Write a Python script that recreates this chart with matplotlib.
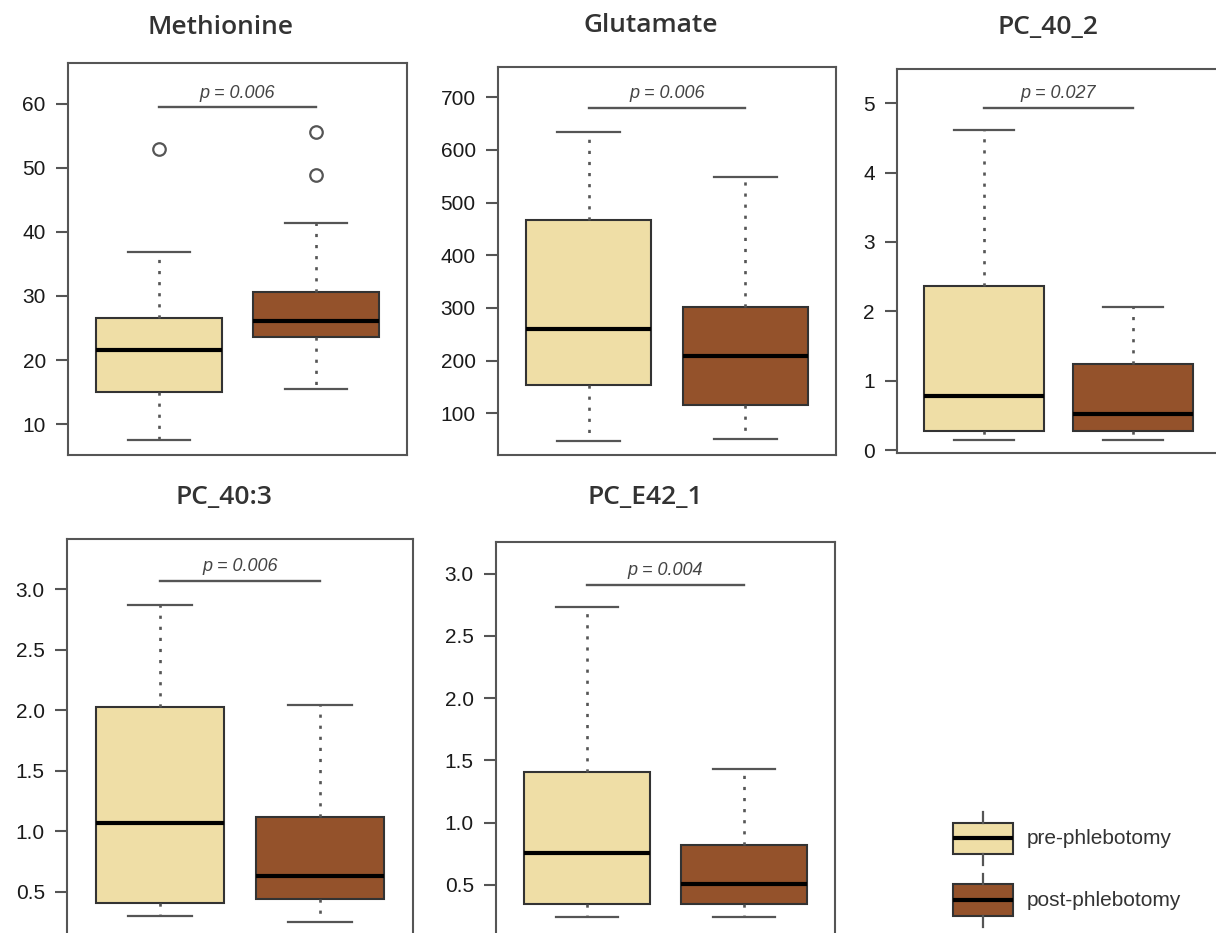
import matplotlib
matplotlib.use("Agg")
import matplotlib.pyplot as plt
from matplotlib.patches import Rectangle

plt.rcParams['font.family'] = ['Liberation Sans', 'DejaVu Sans']

# --- data ---
titles = ["Methionine", "Glutamate", "PC_40_2", "PC_40:3", "PC_E42_1"]

# whisker low, Q1, median, Q3, whisker high
pre_stats = [
    [7.5, 15.0, 21.6, 26.6, 36.9],
    [48, 154, 260, 468, 635],
    [0.15, 0.28, 0.78, 2.37, 4.61],
    [0.30, 0.41, 1.07, 2.03, 2.87],
    [0.24, 0.345, 0.755, 1.41, 2.73],
]
post_stats = [
    [15.5, 23.6, 26.1, 30.6, 41.4],
    [51, 116, 209, 301, 549],
    [0.15, 0.28, 0.53, 1.24, 2.07],
    [0.25, 0.44, 0.63, 1.12, 2.04],
    [0.24, 0.345, 0.51, 0.82, 1.43],
]
pre_fliers = [[53.0], [], [], [], []]
post_fliers = [[55.6, 48.9], [], [], [], []]

p_values = ["0.006", "0.006", "0.027", "0.006", "0.004"]
p_bar_y = [59.5, 680, 4.93, 3.07, 2.91]

yticks = [
    [10, 20, 30, 40, 50, 60],
    [100, 200, 300, 400, 500, 600, 700],
    [0, 1, 2, 3, 4, 5],
    [0.5, 1.0, 1.5, 2.0, 2.5, 3.0],
    [0.5, 1.0, 1.5, 2.0, 2.5, 3.0],
]
ytick_fmt = ["{:.0f}", "{:.0f}", "{:.0f}", "{:.1f}", "{:.1f}"]
ylims = [(5.16, 66.4), (20.8, 757.6), (-0.038, 5.49), (0.134, 3.416), (0.09, 3.255)]

group_names = ["pre-phlebotomy", "post-phlebotomy"]
pre_color = "#EFDEA6"
post_color = "#94522B"

# --- layout (pixels: left, right, top, bottom) ---
W, H = 1216, 933
boxes_px = [
    (68, 407, 63, 455),
    (498, 836, 67, 455),
    (897, 1220, 69, 453),
    (67, 413, 539, 936),
    (496, 835, 542, 936),
]
title_px = [(220, 27), (651, 26), (1048, 27), (224, 497), (645, 497)]

fig = plt.figure(figsize=(W / 100, H / 100), dpi=100)

for i, (l, r, t, b) in enumerate(boxes_px):
    ax = fig.add_axes([l / W, 1 - b / H, (r - l) / W, (b - t) / H])
    stats = []
    for s, fl in ((pre_stats[i], pre_fliers[i]), (post_stats[i], post_fliers[i])):
        stats.append(dict(whislo=s[0], q1=s[1], med=s[2], q3=s[3], whishi=s[4], fliers=fl))
    res = ax.bxp(stats, positions=[1, 2], widths=0.8, capwidths=0.4, patch_artist=True,
                 boxprops=dict(edgecolor="#333333", linewidth=1.5),
                 medianprops=dict(color="black", linewidth=3.0, solid_capstyle="butt"),
                 whiskerprops=dict(color="#555555", linewidth=1.9, linestyle=(0, (1.2, 3.0))),
                 capprops=dict(color="#555555", linewidth=1.6),
                 flierprops=dict(marker="o", markerfacecolor="none", markeredgecolor="#555555",
                                 markersize=9, markeredgewidth=1.6))
    for patch, c in zip(res["boxes"], [pre_color, post_color]):
        patch.set_facecolor(c)
    ax.set_xlim(0.42, 2.58)
    ax.set_ylim(*ylims[i])
    ax.set_xticks([])
    ax.set_yticks(yticks[i])
    ax.set_yticklabels([ytick_fmt[i].format(v) for v in yticks[i]])
    ax.tick_params(axis="y", length=9, width=1.5, color="#555555", pad=7,
                   labelsize=15, labelcolor="#1a1a1a")
    for sp in ax.spines.values():
        sp.set_color("#555555")
        sp.set_linewidth(1.5)

    # significance bar
    ax.plot([1, 2], [p_bar_y[i], p_bar_y[i]], color="#555555", lw=1.7)
    ax.annotate("p = " + p_values[i], (1.5, p_bar_y[i]), xytext=(0, 4),
                textcoords="offset points", ha="center", va="bottom",
                fontsize=13, style="italic", color="#444444")

    fig.text(title_px[i][0] / W, 1 - title_px[i][1] / H, titles[i], ha="center", va="center",
             fontsize=19, family="Open Sans", weight="semibold", color="#333333")

# --- legend, drawn in pixel space ---
lax = fig.add_axes([0, 0, 1, 1])
lax.set_xlim(0, W)
lax.set_ylim(H, 0)
lax.axis("off")
leg_rows = [(812, 822.7, 854, 865, 838), (874, 884, 916, 926.7, 900)]
for (s0, y0, y1, s1, ym), c, name in zip(leg_rows, [pre_color, post_color], group_names):
    lax.plot([983, 983], [s0, y0], color="#555555", lw=1.6)
    lax.plot([983, 983], [y1, s1], color="#555555", lw=1.6)
    lax.add_patch(Rectangle((953, y0), 60, y1 - y0, facecolor=c, edgecolor="#333333", lw=1.5))
    lax.plot([953, 1013], [ym, ym], color="black", lw=3.0, solid_capstyle="butt")
    lax.text(1027, ym, name, ha="left", va="center", fontsize=15, color="#333333")

fig.savefig("out.png", dpi=100)
